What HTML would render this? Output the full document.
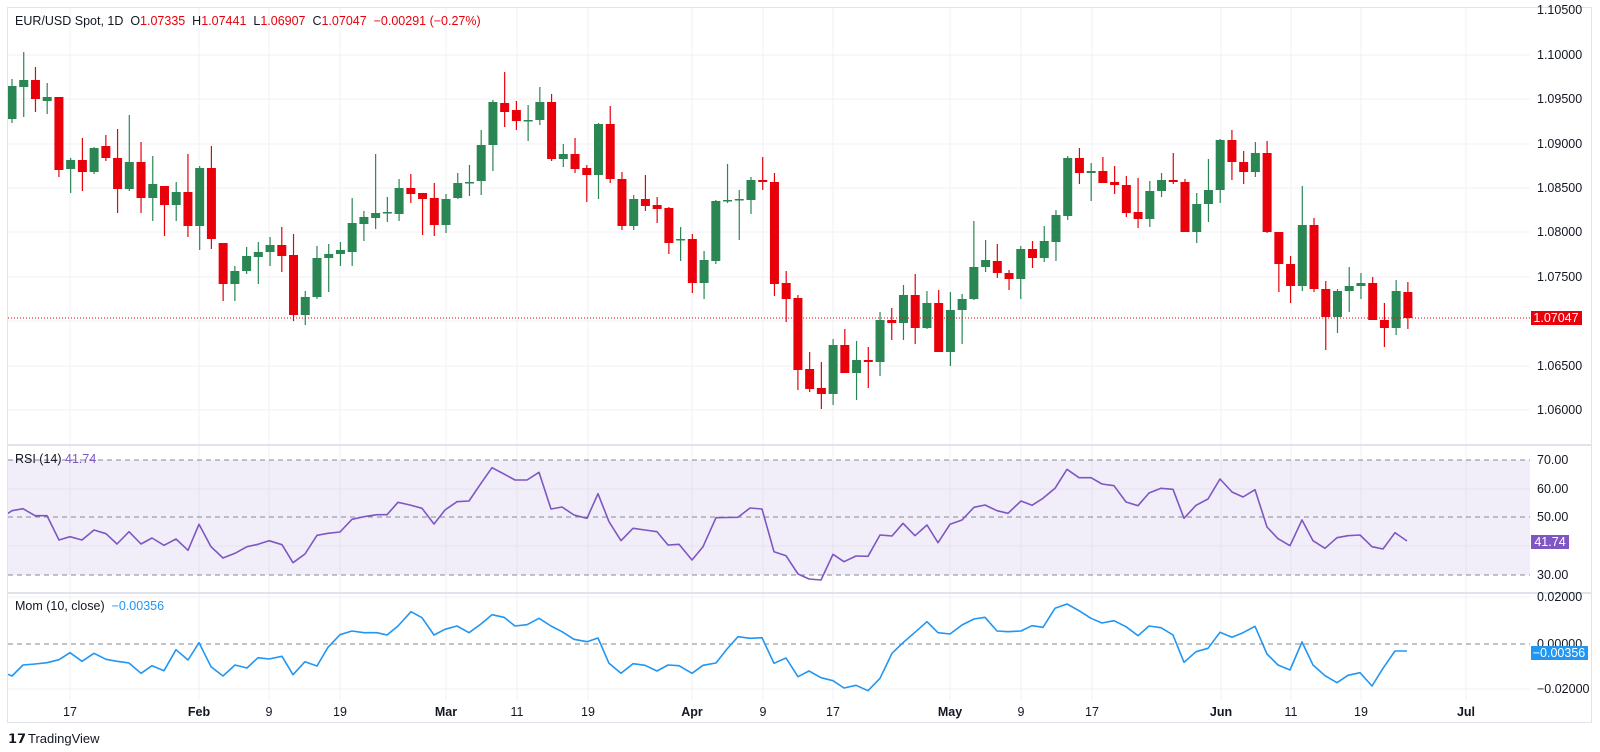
<!DOCTYPE html>
<html><head><meta charset="utf-8"><style>
html,body{margin:0;padding:0;background:#fff;width:1600px;height:752px;overflow:hidden}
svg text{font-family:"Liberation Sans",sans-serif;white-space:pre}
</style></head><body>
<svg id="c" width="1600" height="752" viewBox="0 0 1600 752" xmlns="http://www.w3.org/2000/svg">
<rect x="0" y="0" width="1600" height="752" fill="#fff"/>
<g id="grid" stroke="#f0f1f4" stroke-width="1"></g>
<rect x="8" y="460" width="1522" height="115" fill="#7e57c2" fill-opacity="0.1"/>
<g stroke="#868993" stroke-dasharray="5,4" stroke-width="1">
<line x1="8" y1="460" x2="1530" y2="460"/><line x1="8" y1="517" x2="1530" y2="517"/><line x1="8" y1="575" x2="1530" y2="575"/>
<line x1="8" y1="644" x2="1530" y2="644"/>
</g>
<g id="candles"></g>
<line x1="8" y1="318" x2="1530" y2="318" stroke="#e8000b" stroke-width="1" stroke-dasharray="1,2"/>
<polyline fill="none" stroke="#7e57c2" stroke-width="1.6" stroke-linejoin="round" points="8,513.3 12,510.7 23,508.7 35,515.7 47,515.7 59,540 70,536.7 82,540 94,530 106,533.7 117,544 129,531.7 141,544 152,538 164,545.3 176,539 188,550.3 199,524.3 211,546.7 223,558 235,553.3 247,546.7 258,544.3 269,540.7 282,544.7 293,562.7 305,554 317,535.3 328,533.3 340,532 352,519.3 364,516.7 377,514.7 387,514.7 398,502.3 410,505 422,508.3 434,524 445,510 457,501.7 469,501 481,483.3 492,467.7 504,474 515,480 527,480 539,472.3 551,509 562,507 574,515 587,518.3 598,493.7 609,521.7 621,540.7 633,528.3 645,530 657,531.7 668,545 679,544.3 692,560 703,546.7 716,517.7 727,517.5 738,517.3 750,508 762,509 774,551.7 786,555.7 798,574 809,579 821,580 833,554.3 844,561.7 856,556 868,556.3 880,535 892,536 903,523.3 915,535.7 927,525 938,542.7 950,524.3 962,520 974,507.3 985,505 997,510.7 1008,513.3 1021,501 1032,505.3 1043,498.3 1055,488.3 1067,469.3 1079,477.7 1091,477.7 1102,484 1114,485.7 1126,502 1138,505.7 1149,493 1161,488.3 1173,489.3 1184,518.3 1196,505.3 1208,499 1220,479 1232,492 1243,497 1255,489.7 1267,527 1278,538.7 1290,545.7 1302,520 1313,540.7 1325,548.3 1337,537.7 1348,535.7 1360,535 1372,546.7 1383,549 1395,532.7 1407,541"/>
<polyline fill="none" stroke="#2196f3" stroke-width="1.6" stroke-linejoin="round" points="8,674.3 12,676 23,665 35,664 47,662.7 59,659.7 70,652.7 82,661.3 94,653.3 106,659.3 117,661.3 129,663 141,673.3 152,665.7 164,670.7 176,649.7 188,660 199,642.7 211,666.7 223,676 235,665 247,668 258,657.7 269,659 282,656.3 293,674.7 305,661.7 317,666 328,647.3 340,634.7 352,631 364,632.7 377,632.7 387,635 398,626 411,611.7 422,617.7 434,635 445,629.3 457,626 469,632.7 481,624 492,614.7 504,617.3 515,626 527,624.7 539,618.3 551,626 562,631.7 574,639.3 587,641.7 598,638 609,663.3 621,673.3 633,663.7 645,665.3 657,671 668,665 679,665.7 692,673.3 703,665.3 716,663 727,649 738,636.7 750,638.3 762,637.7 774,663.3 786,658 798,676.7 809,671 821,677.7 833,680.7 844,688 856,685.3 868,690.7 880,678.3 892,653.3 903,642.7 915,632.3 927,621.7 938,632.7 950,634 962,625 974,619 985,617.3 997,631 1008,631.7 1021,631 1032,625.7 1043,627.3 1055,608.3 1067,604 1079,610.7 1091,618.3 1102,623 1114,620.7 1126,626.7 1138,635.7 1149,626 1161,627.7 1173,635 1184,662.3 1196,651.7 1208,648.3 1220,632.3 1232,637.3 1243,632.7 1255,626.3 1267,654 1278,665 1290,670 1302,642 1313,665 1325,675.7 1337,682.7 1348,675.3 1360,672.7 1372,686 1383,668.3 1395,651 1407,651"/>
<rect x="7.5" y="7.5" width="1584" height="715" fill="none" stroke="#e0e3eb"/>
<rect x="8" y="444" width="1584" height="2" fill="#e0e3eb"/>
<rect x="8" y="592" width="1584" height="2" fill="#e0e3eb"/>
<g font-size="12.5" fill="#131722" id="axis"></g>
<rect x="1531" y="311" width="51" height="14" fill="#e8000b"/>
<text x="1556" y="322" font-size="12.5" fill="#fff" text-anchor="middle">1.07047</text>
<rect x="1531" y="535" width="38" height="14" fill="#7e57c2"/>
<text x="1550" y="546" font-size="12.5" fill="#fff" text-anchor="middle">41.74</text>
<rect x="1531" y="646" width="57" height="14" fill="#2196f3"/>
<text x="1559" y="657" font-size="12.5" fill="#fff" text-anchor="middle">−0.00356</text>
<text x="15" y="25" font-size="12.5" fill="#131722">EUR/USD Spot, 1D  O<tspan fill="#e8000b">1.07335</tspan>  H<tspan fill="#e8000b">1.07441</tspan>  L<tspan fill="#e8000b">1.06907</tspan>  C<tspan fill="#e8000b">1.07047</tspan>  <tspan fill="#e8000b">−0.00291 (−0.27%)</tspan></text>
<text x="15" y="463" font-size="12.5" fill="#131722">RSI (14) <tspan fill="#7e57c2">41.74</tspan></text>
<text x="15" y="610" font-size="12.5" fill="#131722">Mom (10, close)  <tspan fill="#2196f3">−0.00356</tspan></text>
<text x="8" y="743" font-size="13" font-weight="bold" fill="#131722">𝟭𝟳</text>
<text x="28" y="743" font-size="13" fill="#131722">TradingView</text>
</svg>
<script>
var NS="http://www.w3.org/2000/svg";
function el(t,a,p){var e=document.createElementNS(NS,t);for(var k in a)e.setAttribute(k,a[k]);p.appendChild(e);return e;}
var grid=document.getElementById('grid');
[55,99,144,188,232,277,321,366,410].forEach(function(y){el('line',{x1:8,y1:y,x2:1530,y2:y},grid);});
[489,546,597,689].forEach(function(y){el('line',{x1:8,y1:y,x2:1530,y2:y},grid);});
var vx=[70,199,269,340,446,517,588,692,763,833,950,1021,1092,1221,1291,1361,1466];
var vl=["17","Feb","9","19","Mar","11","19","Apr","9","17","May","9","17","Jun","11","19","Jul"];
vx.forEach(function(x){el('line',{x1:x,y1:8,x2:x,y2:700},grid);});
var ax=document.getElementById('axis');
vx.forEach(function(x,i){var t=el('text',{x:x,y:716,'text-anchor':'middle'},ax);t.textContent=vl[i];if(/[A-Z]/.test(vl[i]))t.setAttribute('font-weight','bold');});
var pl=[[14,"1.10500"],[59,"1.10000"],[103,"1.09500"],[148,"1.09000"],[192,"1.08500"],[236,"1.08000"],[281,"1.07500"],[370,"1.06500"],[414,"1.06000"],
[464,"70.00"],[493,"60.00"],[521,"50.00"],[579,"30.00"],[601,"0.02000"],[648,"0.00000"],[693,"−0.02000"]];
pl.forEach(function(p){var t=el('text',{x:1537,y:p[0]},ax);t.textContent=p[1];});
var D=[
[86,119,79,123,1],[80,87,52,117,1],[80,99,67,112,0],[97,101,83,114,1],[97,170,97,177,0],[160,169,158,193,1],[160,172,138,191,0],[148,172,147,174,1],[146,158,135,161,0],[158,189,129,213,0],
[162,189,115,191,1],[162,198,142,213,0],[184,198,156,221,1],[186,205,186,236,0],[192,205,182,221,1],[192,226,154,237,0],[168,226,166,250,1],[168,239,146,249,0],[243,284,243,301,0],[271,284,266,301,1],
[256,271,247,274,1],[252,257,242,284,1],[245,252,237,266,1],[245,256,227,272,0],[255,315,234,321,0],[297,315,291,325,1],[258,297,246,299,1],[254,258,244,292,1],[250,254,242,266,1],[223,252,198,266,1],
[217,224,211,241,1],[213,218,154,229,1],[212,213,197,222,1],[188,214,179,221,1],[188,194,174,203,0],[193,199,193,235,0],[198,225,183,236,0],[199,225,194,233,1],[183,198,173,199,1],[182,183,165,196,1],
[145,181,130,195,1],[102,145,100,171,1],[103,112,72,127,0],[110,121,101,130,0],[120,121,105,141,1],[102,120,87,125,1],[102,159,94,161,0],[154,159,144,167,1],[154,169,138,173,0],[168,175,165,202,0],
[124,175,123,199,1],[124,179,106,183,0],[179,226,172,230,0],[199,226,195,230,1],[199,206,175,211,0],[205,209,197,223,0],[208,243,207,254,0],[239,240,227,261,1],[239,283,234,293,0],[260,283,251,299,1],
[201,261,200,264,1],[200,201,164,203,1],[199,200,190,240,1],[180,200,177,214,1],[180,182,157,190,0],[182,284,173,296,0],[283,299,271,322,0],[298,370,295,390,0],[369,389,352,392,0],[388,394,362,409,0],
[345,394,339,405,1],[345,373,329,373,0],[360,373,341,400,1],[360,362,347,388,0],[320,362,312,376,1],[320,323,308,340,0],[295,323,285,340,1],[295,328,274,344,0],[303,328,291,329,1],[303,352,290,352,0],
[310,352,292,366,1],[299,310,294,344,1],[267,299,221,300,1],[260,267,240,272,1],[261,273,244,278,0],[273,279,270,290,0],[249,279,246,299,1],[249,258,241,268,0],[241,258,226,262,1],[215,242,210,261,1],
[158,216,156,220,1],[158,173,148,184,0],[171,173,163,201,1],[171,183,157,183,0],[182,185,166,194,0],[185,213,176,217,0],[212,219,178,228,0],[191,219,181,227,1],[180,191,173,197,1],[180,182,153,184,0],
[182,232,179,232,0],[204,232,193,243,1],[190,204,159,222,1],[140,190,139,203,1],[140,162,130,180,0],[162,172,151,184,0],[153,172,142,177,1],[153,232,141,233,0],[232,264,232,292,0],[264,286,256,303,0],
[225,286,186,291,1],[225,289,218,292,0],[289,317,281,350,0],[291,317,289,333,1],[286,291,267,312,1],[283,286,273,299,1],[283,320,277,320,0],[320,328,303,347,0],[291,328,280,335,1],[292,318,282,329,0]];
var cg=document.getElementById('candles');
D.forEach(function(d,i){var x=12+11.73*i;var col=d[4]?'#2a8754':'#e8000b';
el('line',{x1:x,y1:d[2],x2:x,y2:d[3],stroke:col,'stroke-width':1.2},cg);
var h=Math.max(1.5,d[1]-d[0]);el('rect',{x:x-4.5,y:d[0],width:9,height:h,fill:col},cg);});
</script>
</body></html>
